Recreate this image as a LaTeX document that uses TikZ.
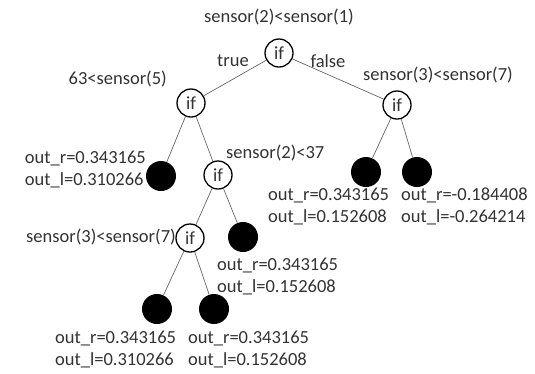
\documentclass[tikz,border=0pt]{standalone}
\usepackage{fontspec}
\setmainfont{Carlito}
\begin{document}
\begin{tikzpicture}[x=1pt,y=-1pt,
  every node/.style={text=black!80, font=\fontsize{18.5}{22}\selectfont},
  ifnode/.style={circle, draw=black, line width=1.3pt, minimum size=28pt, inner sep=0pt},
  leafnode/.style={circle, fill=black, minimum size=30pt, inner sep=0pt},
  lbl/.style={inner sep=0pt, align=left},
  edge/.style={draw=black!60, line width=0.7pt}]
\useasboundingbox[fill=white] (0,0) rectangle (535,373);
% nodes
\node[ifnode] (root) at (279,53) {if};
\node[ifnode] (ifl) at (191,103) {if};
\node[ifnode] (ifr) at (397,105) {if};
\node[leafnode] (l1) at (161,176) {};
\node[ifnode] (if3) at (218,175) {if};
\node[leafnode] (r1) at (366,172) {};
\node[leafnode] (r2) at (417,172) {};
\node[ifnode] (if4) at (190,238) {if};
\node[leafnode] (l3) at (243,237) {};
\node[leafnode] (b1) at (157,309) {};
\node[leafnode] (b2) at (214,309) {};
% edges
\draw[edge] (root) -- (ifl);
\draw[edge] (root) -- (ifr);
\draw[edge] (ifl) -- (l1);
\draw[edge] (ifl) -- (if3);
\draw[edge] (ifr) -- (r1);
\draw[edge] (ifr) -- (r2);
\draw[edge] (if3) -- (if4);
\draw[edge] (if3) -- (l3);
\draw[edge] (if4) -- (b1);
\draw[edge] (if4) -- (b2);
% labels
\node[lbl] (t0) at (279,17) {sensor(2)<sensor(1)};
\node[lbl] (tt) at (233,61) {true};
\node[lbl] (tf) at (328,61) {false};
\node[lbl, anchor=east] (t1) at (167,79) {63<sensor(5)};
\node[lbl, anchor=west] (t2) at (363,75) {sensor(3)<sensor(7)};
\node[lbl, anchor=west] (t3) at (226,153) {sensor(2)<37};
\node[lbl, anchor=east] (t4) at (176,237) {sensor(3)<sensor(7)};
\node[lbl, anchor=east] (o1) at (146,169) {out\_r=0.343165\\out\_l=0.310266};
\node[lbl, anchor=west] (o2) at (268,206.5) {out\_r=0.343165\\out\_l=0.152608};
\node[lbl, anchor=west] (o3) at (401,206.5) {out\_r=-0.184408\\out\_l=-0.264214};
\node[lbl, anchor=west] (o4) at (217,276) {out\_r=0.343165\\out\_l=0.152608};
\node[lbl, anchor=west] (o5) at (55,349) {out\_r=0.343165\\out\_l=0.310266};
\node[lbl, anchor=west] (o6) at (188,349) {out\_r=0.343165\\out\_l=0.152608};
\end{tikzpicture}
\end{document}
